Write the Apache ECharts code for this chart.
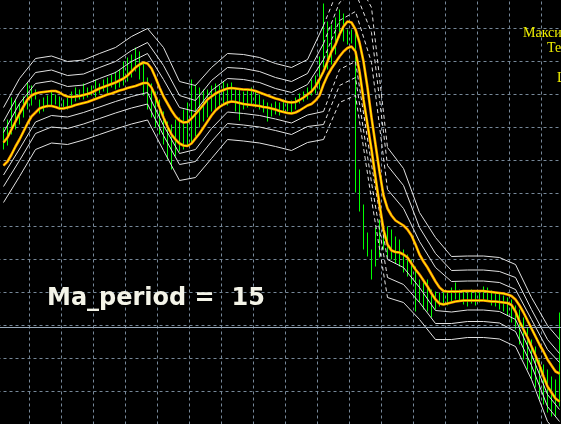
<!DOCTYPE html>
<html><head><meta charset="utf-8">
<script src="https://cdn.jsdelivr.net/npm/echarts@6/dist/echarts.min.js"></script>
<style>html,body{margin:0;padding:0;background:#000;overflow:hidden}#c{width:561px;height:424px}</style>
</head><body><div id="c"></div>
<script>
// ---- data (price units; 33 units = one grid step) ----
const highs = [330,338,360,358,354,361,375,372,368,358,
360,362,366,363,361,358,360,366,370,368,
374,370,372,378,374,378,380,383,386,388,
396,400,403,410,406,396,380,374,366,358,
346,336,333,338,340,348,355,378,373,370,
368,368,372,374,372,376,374,375,370,368,
366,368,370,366,363,358,355,354,356,355,
358,356,357,360,364,366,370,378,382,401,
454,436,433,440,448,444,428,428,426,288,
253,225,208,230,238,230,231,228,221,218,
208,203,198,191,178,175,178,168,166,165,
168,166,170,175,168,166,165,168,166,167,
171,170,167,165,164,162,160,158,152,148,
140,130,118,111,98,93,88,81,78,145];
const lows = [308,312,323,328,333,340,348,352,358,344,
346,350,351,353,348,350,348,352,356,358,
358,360,362,360,364,366,364,370,368,370,
372,376,380,386,378,362,348,340,330,323,
313,298,288,301,306,308,311,315,321,330,
336,340,346,348,350,354,352,356,346,337,
348,350,352,350,348,345,336,341,343,342,
345,346,344,348,354,356,358,362,364,368,
390,388,393,403,420,416,413,414,265,246,
208,201,178,191,200,208,200,198,194,191,
185,181,173,146,155,148,146,140,148,151,
153,152,156,158,156,153,151,154,152,155,
158,157,152,151,148,146,142,135,128,113,
98,88,78,70,58,53,45,41,41,51];
const maHigh = [315,320,328,336,344,351,358,362,364,365,
365.5,366,366.5,366.5,365,362.5,361,360.5,361,361.5,
362.5,363.5,365,367,369,370.5,372,373.5,375,377,
379,382,386,390,393,395,394,389,380,370,
361,354,347,341,337,335,335.5,339,343.5,348,
353,358,361,364,366,367.5,369,369.5,369,368.5,
368,368,367.5,366.5,365,363.5,362,360.5,359,358,
356.5,355.5,355,355.5,357.5,360,363,366,371,378,
386,396,406,413,423,431,436,435,428,415,
396,370,340,313,286,262,249,242,237,234.5,
232,228,222,213,203,196,190,183,176,170,
166.5,166,166,166,166,166.5,166.5,166.5,166.5,166.5,
166.5,166,165.5,165,164.5,164,163,161.5,158,152,
145,137,129,121,113,106,98,92,86,84];
const maLow = [292,296,303,311,318,326,334,341,345,349,
350.5,351.5,351.5,350.5,349,349,350,351,352.5,353.5,
354.5,355.5,357,358.5,360,361.5,363,364,365.5,367,
368,369.5,370.5,371.5,373,374.5,374.5,370,361,350,
340,331,323,318,314,312,311.5,314,319,324,
330,336,342,347,350.5,353,355,356,355.5,354.5,
353.5,353,352.5,352,351.5,350.5,350,349,348,346.5,
345.5,344.5,344,345,347,349.5,352,353.5,357,362,
373,382,389,395,401,406,409.5,411,406,386,
358,333,308,280,253,228,213,207,205.5,205,
203,200,194,188,183,177,171,164,158,154,
153,154,155,156,156.5,157,157,157,157,157,
157,156.5,156,156,155.5,155,154.5,152.5,146,136,
128,120,111,102,92,81,71,65,59,56];
// bands read at these bar numbers
const bandBars = [0,4,8,12,16,20,24,28,32,36,40,44,48,52,56,60,64,68,72,76,80,84,88,92,96,100,104,108,112,116,120,124,128,132,136,139];
const up1 = [325,354,374,376.5,371,372.5,379,385,396,404,378,350,346,367,379,378,375,369,365,373,398,437,446,395,268,249,216,190,176,176.5,176.5,175,168,138,108,95];
const up2 = [336,365,385,387.5,382,383.5,390,396,407,415,392,362,357,377,390,389,386,380,376,384,414,455,465,425,292,272,230,204,187,187.5,187.5,186,180,148,118,104];
const up3 = [350,379,399,401.5,396,397.5,404,410,421,429,410,376,372,390,404,403,400,394,390,398,432,472,480,450,310,289,245,220,201,201.5,201.5,200,193,160,132,118];
const lo1 = [282.5,308.5,335.5,342,340.5,345,350.5,356,361,365,332,304,308,329,345.5,344,342,338.5,334.5,342.5,346,388,396,293,198,190,170,147,145.5,147.5,147.5,146,138,103,63,48];
const lo2 = [271,297,324,330.5,329,333.5,339,344.5,349.5,353.5,322,293,296,316,334,332.5,330.5,327,323,331,333,372,380,275,180,173,155,134,134,136,136,134.5,126,92,51,36];
const lo3 = [255,281,308,314.5,313,317.5,323,328.5,333.5,337.5,307,277,280,299,318,316.5,314.5,311,307,315,318,355,362,258,160,155,138,118,118,120,120,118.5,111,78,36,22];
const dashFrom = 80, dashTo = 96;   // bars where the band lines are dotted
const bidPrice = 130;
const periodLabel = 'Ma_period =  15';
const infoLines = ['Максимум', 'Текущий', '', 'Ширина'];

// ---- chart ----
const slot = i => i + 1.5;
const chart = echarts.init(document.getElementById('c'), null, {renderer: 'canvas'});
const barGreen = '#00ff00';
const bandColor = '#e2e2e2';
function bandSeries(arr) {
  const solid = bandBars.map((b, k) => [slot(b), (b > dashFrom && b < dashTo) ? null : arr[k]]);
  const dashed = bandBars.map((b, k) => [slot(b), (b >= dashFrom && b <= dashTo) ? arr[k] : null]);
  return [
    {type: 'line', data: solid, showSymbol: false, lineStyle: {color: bandColor, width: 1}, itemStyle: {color: bandColor}, silent: true, z: 3},
    {type: 'line', data: dashed, showSymbol: false, lineStyle: {color: bandColor, width: 1, type: [4, 3]}, itemStyle: {color: bandColor}, silent: true, z: 3}
  ];
}
function maSeries(arr) {
  const d = arr.map((v, i) => [slot(i), v]);
  return [
    {type: 'line', data: d, showSymbol: false, lineStyle: {color: '#ff8c00', width: 2.6}, itemStyle: {color: '#ff8c00'}, silent: true, z: 4},
    {type: 'line', data: d, showSymbol: false, lineStyle: {color: '#ffff00', width: 1}, itemStyle: {color: '#ffff00'}, silent: true, z: 5}
  ];
}
const series = [
  {
    type: 'custom', z: 2, silent: true, clip: true,
    itemStyle: {color: barGreen},
    data: highs.map((h, i) => [slot(i), h, lows[i]]),
    encode: {x: 0, y: [1, 2]},
    renderItem: function (params, api) {
      const a = api.coord([api.value(0), api.value(1)]);
      const b = api.coord([api.value(0), api.value(2)]);
      return {type: 'rect', shape: {x: a[0] - 0.5, y: a[1], width: 1, height: b[1] - a[1]},
        style: {fill: barGreen, stroke: null, opacity: 1}};
    },
    markLine: {silent: true, symbol: 'none', label: {show: false}, animation: false,
      lineStyle: {color: '#9aaabb', type: 'solid', width: 1}, data: [{yAxis: bidPrice}]}
  },
  ...bandSeries(up1), ...bandSeries(up2), ...bandSeries(up3),
  ...bandSeries(lo1), ...bandSeries(lo2), ...bandSeries(lo3),
  ...maSeries(maHigh), ...maSeries(maLow)
];
const gridLine = {show: true, lineStyle: {color: '#778899', type: [3, 3], width: 1}};
const option = {
  backgroundColor: '#000000',
  animation: false,
  grid: {left: -2.5, right: -12.5, top: -4.5, bottom: -33.5, containLabel: false, outerBoundsMode: 'none'},
  xAxis: {type: 'value', min: 0, max: 144, interval: 8, axisLine: {show: false}, axisTick: {show: false}, axisLabel: {show: false}, splitLine: gridLine},
  yAxis: {type: 'value', min: 0, max: 462, interval: 33, axisLine: {show: false}, axisTick: {show: false}, axisLabel: {show: false}, splitLine: gridLine},
  series: series,
  graphic: [
    {type: 'text', x: 47, y: 298.6, z: 100, style: {text: periodLabel, font: 'bold 24px "DejaVu Sans"', fill: '#f4f4e8', verticalAlign: 'middle'}},
    {type: 'text', x: 523, y: 33.7, z: 100, style: {text: infoLines[0], font: '14px "Liberation Serif"', fill: '#f0f000', verticalAlign: 'middle'}},
    {type: 'text', x: 547, y: 48.7, z: 100, style: {text: infoLines[1], font: '14px "Liberation Serif"', fill: '#f0f000', verticalAlign: 'middle'}},
    {type: 'text', x: 557, y: 78.7, z: 100, style: {text: infoLines[3], font: '14px "Liberation Serif"', fill: '#f0f000', verticalAlign: 'middle'}}
  ]
};
chart.setOption(option);
</script>
</body></html>
